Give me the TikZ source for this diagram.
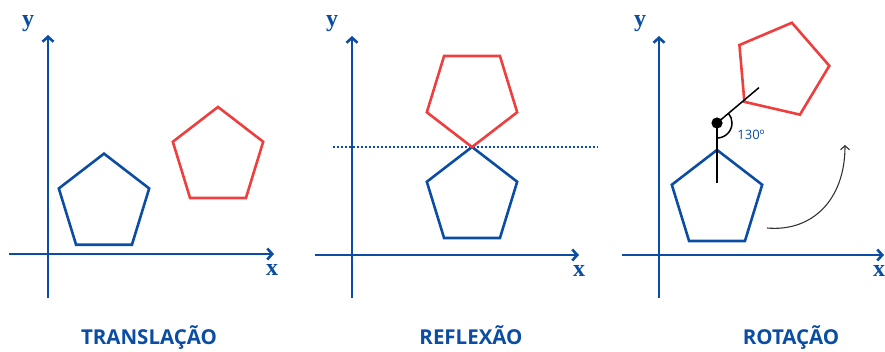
\documentclass[tikz,border=0pt]{standalone}
\usepackage{fontspec}
\setmainfont{Liberation Serif}
\newfontfamily\labelfont{Open Sans}
\usetikzlibrary{arrows.meta,shapes.geometric}
\definecolor{axisblue}{HTML}{0B4DA2}
\definecolor{shapered}{HTML}{EF3E3E}
\definecolor{arrowgray}{HTML}{333333}
\begin{document}
\begin{tikzpicture}[x=1pt,y=1pt,
  axisline/.style={draw=axisblue, line width=2.6pt, -{Straight Barb[length=5pt,width=11pt]}},
  pent/.style={regular polygon, regular polygon sides=5, minimum size=95pt, inner sep=0pt, line width=2.6pt, yscale=1.06},
  bluepent/.style={pent, draw=axisblue},
  redpent/.style={pent, draw=shapered},
  axislabel/.style={text=axisblue, font=\fontsize{24}{24}\selectfont\bfseries, inner sep=0pt, anchor=base},
  title/.style={text=axisblue, font=\labelfont\fontsize{20.5}{22}\selectfont\bfseries, inner sep=0pt, anchor=base},
  thinblack/.style={draw=black, line width=1.5pt}
]
\useasboundingbox (0,0) rectangle (885,-351);

% ---------- Panel 1: translation ----------
\coordinate (ax1s) at (9,-254);
\coordinate (ax1e) at (274,-254);
\coordinate (ay1s) at (48,-298);
\coordinate (ay1e) at (48,-35);
\draw[axisline] (ax1s) -- (ax1e);
\draw[axisline] (ay1s) -- (ay1e);
\node[axislabel] (y1) at (28,-26) {y};
\node[axislabel] (x1) at (272,-275) {x};
\node[bluepent] (p1) at (104,-204) {};
\node[redpent] (q1) at (218,-157.3) {};
\node[title] (t1) at (149,-344) {TRANSLAÇÃO};

% ---------- Panel 2: reflection ----------
\coordinate (ax2s) at (315,-255);
\coordinate (ax2e) at (579,-255);
\coordinate (ay2s) at (352,-298);
\coordinate (ay2e) at (352,-36);
\draw[axisline] (ax2s) -- (ax2e);
\draw[axisline] (ay2s) -- (ay2e);
\node[axislabel] (y2) at (332,-26) {y};
\node[axislabel] (x2) at (579,-276) {x};
\coordinate (m1) at (333,-147);
\coordinate (m2) at (598,-147);
\draw[axisblue, line width=1.8pt, dash pattern=on 1.8pt off 2.2pt] (m1) -- (m2);
\node[bluepent] (p2) at (472,-197.3) {};
\node[redpent, shape border rotate=180] (q2) at (472,-96.7) {};
\node[title] (t2) at (471,-344) {REFLEXÃO};

% ---------- Panel 3: rotation ----------
\coordinate (ax3s) at (622,-255);
\coordinate (ax3e) at (884,-255);
\coordinate (ay3s) at (659,-298);
\coordinate (ay3e) at (659,-36);
\draw[axisline] (ax3s) -- (ax3e);
\draw[axisline] (ay3s) -- (ay3e);
\node[axislabel] (y3) at (640,-26) {y};
\node[axislabel] (x3) at (879,-276) {x};
\node[bluepent] (p3) at (717,-200.3) {};
\node[redpent, yscale=1/1.06, minimum size=97pt, rotate=-13] (q3) at (781,-70) {};
\coordinate (pivot) at (717,-123);
\coordinate (vend) at (717,-183);
\coordinate (rend) at (759,-87.6);
\draw[thinblack] (pivot) -- (vend);
\draw[thinblack] (pivot) -- (rend);
\draw[thinblack] (pivot) ++(-90:15) arc[start angle=-90, end angle=40, radius=15];
\fill[black] (pivot) circle[radius=5.6];
\node[text=axisblue, font=\labelfont\fontsize{13}{14}\selectfont, inner sep=0pt, anchor=base] (ang) at (751,-139.5) {130º};
\coordinate (cs) at (767,-228);
\coordinate (ce) at (845,-145);
\draw[arrowgray, line width=1.1pt, -{Straight Barb[length=4pt,width=9pt]}] (cs) .. controls (812,-232) and (845,-200) .. (ce);
\node[title] (t3) at (791,-344) {ROTAÇÃO};
\end{tikzpicture}
\end{document}
